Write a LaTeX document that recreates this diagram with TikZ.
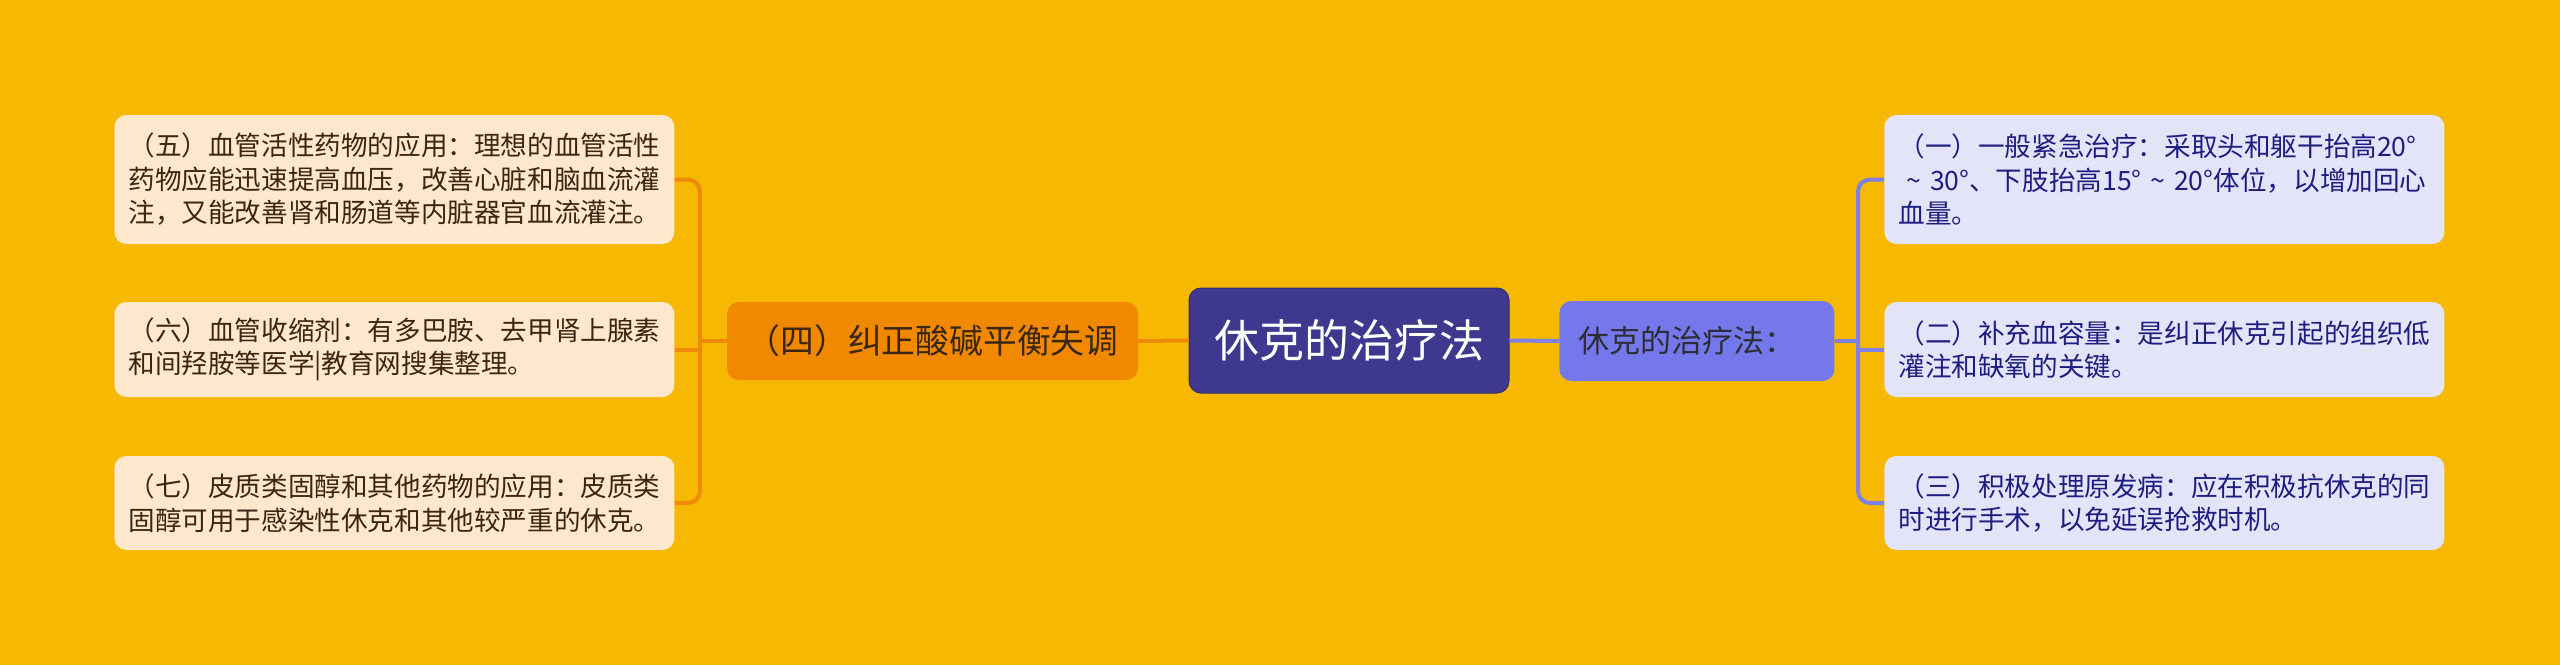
\documentclass[tikz,border=0pt]{standalone}
\usepackage{fontspec}
\newfontfamily\cjk{Noto Sans CJK SC}
\definecolor{bgc}{RGB}{246,184,0}
\definecolor{leafL}{RGB}{253,232,206}
\definecolor{leafR}{RGB}{228,228,249}
\definecolor{orangeN}{RGB}{240,136,0}
\definecolor{orangeL}{RGB}{238,138,8}
\definecolor{centerC}{RGB}{62,57,143}
\definecolor{purpleN}{RGB}{117,120,235}
\definecolor{purpleL}{RGB}{126,128,228}
\definecolor{textL}{RGB}{58,38,18}
\definecolor{textR}{RGB}{30,30,128}
\definecolor{textD}{RGB}{45,45,55}
\tikzset{
  leafbox/.style={rounded corners=6pt, anchor=west, minimum width=280pt, text width=266pt,
    inner xsep=7pt, inner ysep=0pt, align=left,
    font=\cjk\fontsize{13.3pt}{16.75pt}\selectfont},
  leftleaf/.style={leafbox, fill=leafL, text=textL},
  rightleaf/.style={leafbox, fill=leafR, text=textR},
  olink/.style={draw=orangeL, line width=2pt},
  plink/.style={draw=purpleL, line width=2pt},
}
\begin{document}
\begin{tikzpicture}[x=0.5pt,y=-0.5pt]
\useasboundingbox (0,0) rectangle (2560,665);
\fill[bgc] (0,0) rectangle (2560,665);

% center
\node[fill=centerC, draw=centerC!80!black, line width=0.5pt, rounded corners=6pt, minimum width=160pt, minimum height=52.5pt,
  inner sep=0pt, text=white, font=\cjk\fontsize{22.5pt}{27pt}\selectfont] (c) at (1349,340.5) {休克的治疗法};

% left main node
\node[fill=orangeN, rounded corners=6pt, minimum width=205.5pt, minimum height=39pt, inner sep=0pt,
  text=textL, font=\cjk\fontsize{16.9pt}{20pt}\selectfont] (n4) at (932.5,341) {（四）纠正酸碱平衡失调};

% right main node
\node[fill=purpleN, rounded corners=6pt, anchor=west, text width=118.5pt, inner xsep=9.5pt, inner ysep=0pt,
  minimum height=40pt, align=left, text=textD, font=\cjk\fontsize{15.5pt}{19pt}\selectfont] (r0) at (1559,341) {休克的治疗法：};

% left leaves
\node[leftleaf, minimum height=64.5pt] (l5) at (114,179.5) {（五）血管活性药物的应用：理想的血管活性\\药物应能迅速提高血压，改善心脏和脑血流灌\\注，又能改善肾和肠道等内脏器官血流灌注。};
\node[leftleaf, minimum height=47.5pt] (l6) at (114,349.5) {（六）血管收缩剂：有多巴胺、去甲肾上腺素\\和间羟胺等医学|教育网搜集整理。};
\node[leftleaf, minimum height=47pt] (l7) at (114,503) {（七）皮质类固醇和其他药物的应用：皮质类\\固醇可用于感染性休克和其他较严重的休克。};

% right leaves
\node[rightleaf, minimum height=64.5pt] (r1) at (1884,179.5) {（一）一般紧急治疗：采取头和躯干抬高20°\\\hspace*{0.3em}\textasciitilde{} 30°、下肢抬高15° \textasciitilde{} 20°体位，以增加回心\\血量。};
\node[rightleaf, minimum height=47.5pt] (r2) at (1884,349.5) {（二）补充血容量：是纠正休克引起的组织低\\灌注和缺氧的关键。};
\node[rightleaf, minimum height=47pt] (r3) at (1884,503) {（三）积极处理原发病：应在积极抗休克的同\\时进行手术，以免延误抢救时机。};

% junctions
\coordinate (jl) at (700,341);
\coordinate (jr) at (1858,341);

% connectors
\draw[olink] (c.west) -- (n4.east);
\draw[plink] (c.east) -- (r0.west);
\draw[olink] (n4.west) -- (jl);
\draw[olink, rounded corners=6pt] (l5.east) -| (jl) |- (l7.east);
\draw[olink] (l6.east) -- (l6.east -| jl);
\draw[plink] (r0.east) -- (jr);
\draw[plink, rounded corners=6pt] (r1.west) -| (jr) |- (r3.west);
\draw[plink] (r2.west) -- (r2.west -| jr);
\end{tikzpicture}
\end{document}
